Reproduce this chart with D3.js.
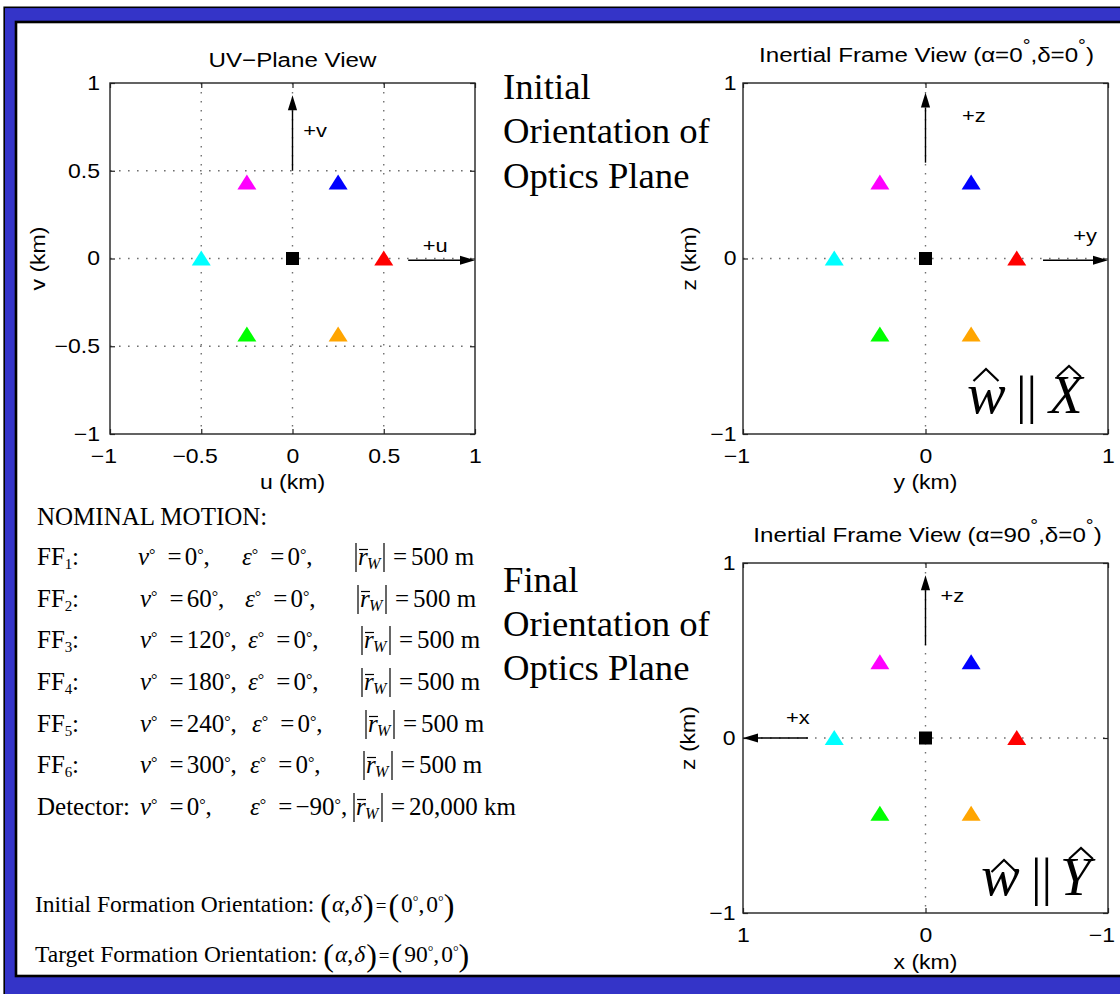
<!DOCTYPE html>
<html><head><meta charset="utf-8">
<script src="https://cdn.jsdelivr.net/npm/d3@7"></script>
<style>html,body{margin:0;padding:0;background:#fff}svg{display:block}</style>
</head><body>
<svg id="c" width="1120" height="994"></svg>
<script>
// ---------------- DATA ----------------
const formationIds   = ["1","2","3","4","5","6"];
const markerColors   = ["#ff0000","#0000ff","#ff00ff","#00ffff","#00ff00","#ffa500"];
// UV-plane positions (km)
const uvU = [0.5, 0.25, -0.25, -0.5, -0.25, 0.25];
const uvV = [0, 0.433, 0.433, 0, -0.433, -0.433];
// Inertial frame, initial orientation (alpha=0, delta=0)
const initY = [0.5, 0.25, -0.25, -0.5, -0.25, 0.25];
const initZ = [0, 0.433, 0.433, 0, -0.433, -0.433];
// Inertial frame, final orientation (alpha=90, delta=0)
const finalX = [-0.5, -0.25, 0.25, 0.5, 0.25, -0.25];
const finalZ = [0, 0.433, 0.433, 0, -0.433, -0.433];
// Detector position in every view
const detectorPos = [0, 0];
// Tick values
const uvTicks = [-1, -0.5, 0, 0.5, 1];
const inertialTicks = [-1, 0, 1];
const finalXTicks = [1, 0, -1];
const uvGrid = [-0.5, 0, 0.5];
const inertialGrid = [0];
// Orientations
const viewAlpha = [0, 90];
const viewDelta = [0, 0];
// Nominal motion table
const nominalNu  = [0, 60, 120, 180, 240, 300];
const nominalEps = [0, 0, 0, 0, 0, 0];
const nominalRw  = ["500 m","500 m","500 m","500 m","500 m","500 m"];
const detectorNu = 0, detectorEps = -90, detectorRw = "20,000 km";
const initialOrient = [0, 0];
const targetOrient  = [90, 0];

// ---------------- SETUP ----------------
const svg = d3.select("#c");
const SANS = "'Liberation Sans', Arial, Helvetica, sans-serif";
const SERIF = "'Liberation Serif', 'Times New Roman', Times, serif";
const SX = 1.15;
const fmt = d => (d < 0 ? "\u2212" : "") + Math.abs(d);

// frame
svg.append("rect").attr("x",4.2).attr("y",7.3).attr("width",1140).attr("height",1000)
  .attr("fill","#3434c8").attr("stroke","#000").attr("stroke-width",1.6);
svg.append("rect").attr("x",16).attr("y",22).attr("width",1130).attr("height",954)
  .attr("fill","#fff").attr("stroke","#000").attr("stroke-width",2.6);

function sansText(g, x, y, txt, size, opts = {}) {
  const t = g.append("text")
    .attr("transform", `translate(${x},${y})${opts.rotate ? " rotate(" + opts.rotate + ")" : ""} scale(${SX},1)`)
    .attr("font-family", SANS).attr("font-size", size)
    .attr("text-anchor", opts.anchor || "middle").attr("fill", "#000");
  if (typeof txt === "string") t.text(txt);
  else txt.forEach(p => {
    const s = t.append("tspan").text(p.t);
    if (p.fs) s.attr("font-size", p.fs);
    if (p.dy) s.attr("dy", p.dy);
  });
  return t;
}

function arrow(g, x1, y1, x2, y2) {
  const a = Math.atan2(y2 - y1, x2 - x1), L = 15, W = 4.6;
  const bx = x2 - L * Math.cos(a), by = y2 - L * Math.sin(a);
  g.append("line").attr("x1",x1).attr("y1",y1).attr("x2",bx).attr("y2",by)
    .attr("stroke","#000").attr("stroke-width",1.4);
  g.append("path").attr("d",
    `M${x2},${y2}L${bx - W*Math.sin(a)},${by + W*Math.cos(a)}L${bx + W*Math.sin(a)},${by - W*Math.cos(a)}Z`)
    .attr("fill","#000");
}

function titleParts(alpha, delta) {
  return [
    {t: "Inertial Frame View (\u03b1=" + alpha},
    {t: "\u00b0", fs: 17, dy: -11},
    {t: ",\u03b4=" + delta, dy: 11},
    {t: "\u00b0", fs: 17, dy: -11},
    {t: ")", dy: 11}
  ];
}

function panel(p) {
  const x = d3.scaleLinear().domain(p.xDomain).range([p.left, p.right]);
  const y = d3.scaleLinear().domain([-1, 1]).range([p.bottom, p.top]);
  const g = svg.append("g");

  // dotted grid
  g.selectAll(null).data(p.xGrid).join("line")
    .attr("x1", d => x(d)).attr("x2", d => x(d)).attr("y1", p.top).attr("y2", p.bottom)
    .attr("stroke", "#707070").attr("stroke-width", 1.4).attr("stroke-dasharray", "1.6,7.4");
  g.selectAll(null).data(p.yGrid).join("line")
    .attr("y1", d => y(d)).attr("y2", d => y(d)).attr("x1", p.left).attr("x2", p.right)
    .attr("stroke", "#707070").attr("stroke-width", 1.4).attr("stroke-dasharray", "1.6,7.4");

  // axes
  const styleAxis = sel => {
    sel.select(".domain").remove();
    sel.attr("font-family", SANS).attr("font-size", 20);
    sel.selectAll("line").attr("stroke", "#222").attr("stroke-width", 1.2);
    sel.selectAll("text").attr("fill", "#000");
  };
  const xa = g.append("g").attr("transform", `translate(0,${p.bottom})`)
    .call(d3.axisBottom(x).tickValues(p.xTicks).tickFormat(fmt).tickSizeInner(-5).tickSizeOuter(0).tickPadding(14.5));
  styleAxis(xa);
  // minus sign hangs to the left of the centred number
  xa.selectAll("text").attr("transform", `scale(${SX},1)`).attr("dx", d => d < 0 ? "-0.29em" : null);
  const ya = g.append("g").attr("transform", `translate(${p.left},0)`)
    .call(d3.axisLeft(y).tickValues(p.yTicks).tickFormat(fmt).tickSizeInner(-5).tickSizeOuter(0).tickPadding(p.yPad));
  styleAxis(ya);
  ya.selectAll("text").attr("transform", `scale(${SX},1)`);
  const xt = g.append("g").attr("transform", `translate(0,${p.top})`)
    .call(d3.axisTop(x).tickValues(p.xTicks).tickFormat("").tickSizeInner(-5).tickSizeOuter(0));
  styleAxis(xt);
  const yr = g.append("g").attr("transform", `translate(${p.right},0)`)
    .call(d3.axisRight(y).tickValues(p.yTicks).tickFormat("").tickSizeInner(-5).tickSizeOuter(0));
  styleAxis(yr);

  // direction arrows
  p.arrows.forEach(a => arrow(g, x(a.from[0]), y(a.from[1]), x(a.to[0]), y(a.to[1])));
  p.arrowLabels.forEach(l => sansText(g, x(l.at[0]), y(l.at[1]) + 6, l.t, 19));

  // markers
  const tri = "M0,-8L9.5,7L-9.5,7Z";
  g.selectAll(null).data(p.px.map((v, i) => ({x: v, y: p.py[i], c: markerColors[i]}))).join("path")
    .attr("d", tri).attr("transform", d => `translate(${x(d.x)},${y(d.y)})`).attr("fill", d => d.c);
  g.append("rect").attr("x", x(detectorPos[0]) - 6.5).attr("y", y(detectorPos[1]) - 6.5)
    .attr("width", 13).attr("height", 13).attr("fill", "#000");

  // box
  g.append("rect").attr("x", p.left).attr("y", p.top).attr("width", p.right - p.left).attr("height", p.bottom - p.top)
    .attr("fill", "none").attr("stroke", "#222").attr("stroke-width", 1.4);

  // titles and labels
  sansText(g, (p.left + p.right) / 2 + p.titleDx, p.titleY, p.title, 21);
  sansText(g, (p.left + p.right) / 2, p.xLabelY, p.xLabel, 20);
  sansText(g, p.yLabelX, (p.top + p.bottom) / 2, p.yLabel, 20, {rotate: -90});
  return {x, y};
}

// UV-plane view
panel({left: 110, right: 475, top: 83, bottom: 434, xDomain: [-1, 1],
  xTicks: uvTicks, yTicks: uvTicks, xGrid: uvGrid, yGrid: uvGrid, yPad: 8.7,
  px: uvU, py: uvV,
  arrows: [{from: [0, 0.5], to: [0, 0.93]}, {from: [0.634, -0.01], to: [1, -0.01]}],
  arrowLabels: [{t: "+v", at: [0.124, 0.728]}, {t: "+u", at: [0.782, 0.072]}],
  title: "UV\u2212Plane View", titleY: 67, titleDx: 0, xLabel: "u (km)", xLabelY: 489,
  yLabel: "v (km)", yLabelX: 44.6});

// Inertial frame, initial
panel({left: 743, right: 1108, top: 83, bottom: 434, xDomain: [-1, 1],
  xTicks: inertialTicks, yTicks: inertialTicks, xGrid: inertialGrid, yGrid: inertialGrid, yPad: 5.7,
  px: initY, py: initZ,
  arrows: [{from: [0, 0.546], to: [0, 0.946]}, {from: [0.644, -0.01], to: [1, -0.01]}],
  arrowLabels: [{t: "+z", at: [0.265, 0.81]}, {t: "+y", at: [0.874, 0.127]}],
  title: titleParts(viewAlpha[0], viewDelta[0]), titleY: 62, titleDx: 1, xLabel: "y (km)", xLabelY: 489,
  yLabel: "z (km)", yLabelX: 696});

// Inertial frame, final
panel({left: 743, right: 1108, top: 563, bottom: 913, xDomain: [1, -1],
  xTicks: finalXTicks, yTicks: inertialTicks, xGrid: inertialGrid, yGrid: inertialGrid, yPad: 6.5,
  px: finalX, py: finalZ,
  arrows: [{from: [0, 0.53], to: [0, 0.93]}, {from: [0.644, 0], to: [1, 0]}],
  arrowLabels: [{t: "+z", at: [-0.147, 0.81]}, {t: "+x", at: [0.70, 0.114]}],
  title: titleParts(viewAlpha[1], viewDelta[1]), titleY: 542, titleDx: 2, xLabel: "x (km)", xLabelY: 969,
  yLabel: "z (km)", yLabelX: 695});

// ---------------- SERIF ANNOTATIONS ----------------
function serif(x, y, size, parts, italicAll) {
  const t = svg.append("text").attr("x", x).attr("y", y).attr("font-family", SERIF)
    .attr("font-size", size).attr("fill", "#000");
  if (italicAll) t.attr("font-style", "italic");
  if (typeof parts === "string") { t.text(parts); return t; }
  parts.forEach(p => {
    const s = t.append("tspan").text(p.t);
    if (p.i) s.attr("font-style", "italic");
    if (p.fs) s.attr("font-size", p.fs);
    if (p.dy) s.attr("dy", p.dy);
    if (p.dx) s.attr("dx", p.dx);
    if (p.x != null) s.attr("x", p.x);
  });
  return t;
}

// Orientation captions
["Initial", "Orientation of", "Optics Plane"].forEach((s, i) => serif(503, [99.3, 143.3, 188.3][i], 36.7, s));
["Final", "Orientation of", "Optics Plane"].forEach((s, i) => serif(503, [591.7, 636, 679.5][i], 36.7, s));

// w || X and w || Y labels with hats
function hat(cx, top, w, h) {
  svg.append("path").attr("d", `M${cx - w/2},${top + h}L${cx},${top}L${cx + w/2},${top + h}`)
    .attr("fill", "none").attr("stroke", "#000").attr("stroke-width", 2.2).attr("stroke-linejoin", "miter");
}
function wParallel(wx, barX, capX, base, cap, hatW, hatC) {
  serif(wx, base, 58, "w", true);
  serif(barX, base, 53, "||");
  serif(capX, base, 55, cap, true);
  hat(hatW[0], hatW[1], 25, 12);
  hat(hatC[0], hatC[1], 24, 11);
}
wParallel(967, 1016, 1049, 413, "X", [986, 369], [1069, 366]);
wParallel(981, 1031, 1060, 895, "Y", [1004, 860], [1081, 848]);

// Nominal motion table
serif(37, 525, 25, "NOMINAL MOTION:");
const rowY = [565, 607, 648, 690, 732, 773, 815];
const rowNuX = [138, 140, 140, 140, 140, 140, 140];
const rowEpsX = [242, 245, 248, 248, 252, 250, 250];
const rowBarX = [355, 357, 361, 361, 365, 363, 353];

function degPart(x, y, sym, val) {
  serif(x, y, 25, [
    {t: sym, i: true},
    {t: "\u00b0", fs: 16, dy: -5},
    {t: "=", dy: 5, dx: 12},
    {t: fmt(val), dx: 3},
    {t: "\u00b0", fs: 16, dy: -5},
    {t: ",", dy: 5}
  ]);
}
function rwPart(x, y, val) {
  svg.append("line").attr("x1", x + 1).attr("x2", x + 1).attr("y1", y - 22).attr("y2", y + 7)
    .attr("stroke", "#000").attr("stroke-width", 1.2);
  serif(x + 3, y, 25, "r", true);
  svg.append("line").attr("x1", x + 4).attr("x2", x + 13).attr("y1", y - 15.5).attr("y2", y - 15.5)
    .attr("stroke", "#000").attr("stroke-width", 1.2);
  serif(x + 12, y + 4, 16, "W", true);
  svg.append("line").attr("x1", x + 29).attr("x2", x + 29).attr("y1", y - 22).attr("y2", y + 7)
    .attr("stroke", "#000").attr("stroke-width", 1.2);
  serif(x + 38, y, 25, [{t: "="}, {t: val, dx: 4}]);
}

nominalNu.forEach((nu, i) => {
  const y = rowY[i];
  serif(37, y, 25, [{t: "FF"}, {t: formationIds[i], fs: 15, dy: 4}, {t: ":", dy: -4, x: 72}]);
  degPart(rowNuX[i], y, "\u03bd", nu);
  degPart(rowEpsX[i], y, "\u03b5", nominalEps[i]);
  rwPart(rowBarX[i], y, nominalRw[i]);
});
{
  const y = rowY[6];
  serif(37, y, 25, "Detector:");
  degPart(rowNuX[6], y, "\u03bd", detectorNu);
  degPart(rowEpsX[6], y, "\u03b5", detectorEps);
  rwPart(rowBarX[6], y, detectorRw);
}

// Formation orientation lines
function orientLine(y, label, vals) {
  serif(35, y, 23.5, [
    {t: label + " "},
    {t: "(", fs: 32, dy: 4},
    {t: "\u03b1", i: true, dy: -4, dx: 1},
    {t: ","},
    {t: "\u03b4", i: true, dx: 1},
    {t: ")", fs: 32, dy: 4, dx: 1},
    {t: "=", fs: 19, dy: -4, dx: 2},
    {t: "(", fs: 32, dy: 4, dx: 2},
    {t: String(vals[0]), dy: -4, dx: 2},
    {t: "\u00b0", fs: 14, dy: -6},
    {t: ",", dy: 6},
    {t: String(vals[1]), dx: 2},
    {t: "\u00b0", fs: 14, dy: -6},
    {t: ")", fs: 32, dy: 10}
  ]);
}
orientLine(912, "Initial Formation Orientation:", initialOrient);
orientLine(962, "Target Formation Orientation:", targetOrient);
</script>
</body></html>
